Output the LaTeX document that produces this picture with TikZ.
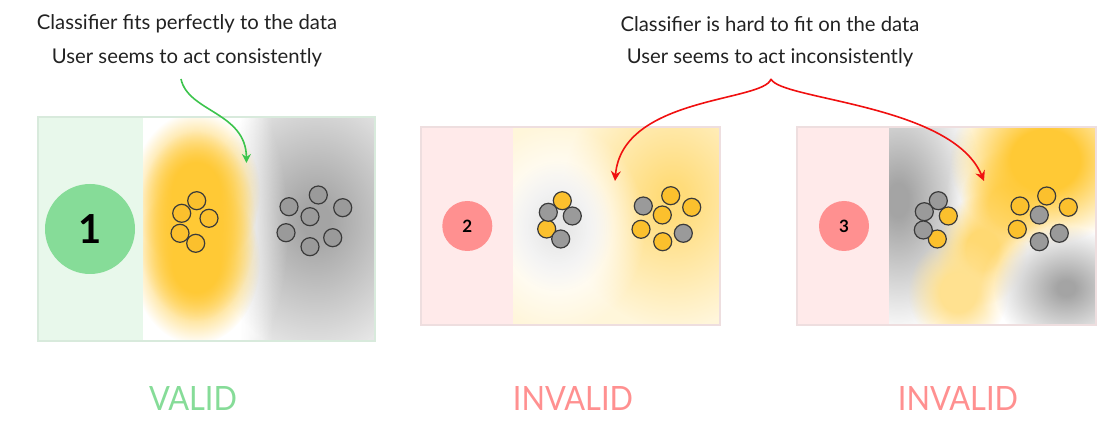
\documentclass[tikz,border=0pt]{standalone}
\usepackage{fontspec}
\setmainfont{Lato}
\usetikzlibrary{arrows.meta,fadings}
\definecolor{txt}{HTML}{222222}
\definecolor{okgreen}{HTML}{86DC98}
\definecolor{okstrip}{HTML}{E8F8EB}
\definecolor{okborder}{HTML}{D8EADC}
\definecolor{badred}{HTML}{FF9090}
\definecolor{badstrip}{HTML}{FFEAEA}
\definecolor{badborder}{HTML}{EEDEDF}
\definecolor{dotyellow}{HTML}{FBC02D}
\definecolor{dotgray}{HTML}{9A9A9A}
\definecolor{dotedge}{HTML}{3A3A3A}
\definecolor{heatyellow}{HTML}{FFC935}
\definecolor{paleyellow}{HTML}{FFF6DA}
\definecolor{midyellow}{HTML}{FFDC7A}
\definecolor{lightgray}{HTML}{E6E6E6}
\definecolor{darkgray}{HTML}{A4A4A4}
\definecolor{arrowgreen}{HTML}{3CC44C}
\definecolor{arrowred}{HTML}{F01010}
\pgfdeclareradialshading{softshade}{\pgfpoint{0bp}{0bp}}{color(0bp)=(pgftransparent!0); color(9bp)=(pgftransparent!0); color(25bp)=(pgftransparent!100); color(50bp)=(pgftransparent!100)}
\pgfdeclarefading{softblob}{\pgfuseshading{softshade}}
\pgfdeclareradialshading{wideshade}{\pgfpoint{0bp}{0bp}}{color(0bp)=(pgftransparent!0); color(3bp)=(pgftransparent!0); color(25bp)=(pgftransparent!100); color(50bp)=(pgftransparent!100)}
\pgfdeclarefading{wideblob}{\pgfuseshading{wideshade}}
\tikzset{
  ydot/.style={circle, draw=dotedge, line width=1.2pt, fill=dotyellow, minimum size=18pt, inner sep=0pt},
  gdot/.style={circle, draw=dotedge, line width=1.2pt, fill=dotgray, minimum size=18pt, inner sep=0pt},
  caption/.style={font=\fontsize{20.3}{23}\selectfont, text=txt, inner sep=0pt},
  verdict/.style={font=\fontsize{33.5}{36}\selectfont, inner sep=0pt, xscale=0.92},
  numdisc/.style={circle, inner sep=0pt, font=\bfseries},
  panelframe/.style={draw, line width=2pt},
  soft/.style={fill=#1, path fading=softblob},
  wide/.style={fill=#1, path fading=wideblob},
  greenarrow/.style={draw=arrowgreen, line width=1.6pt, -{Stealth[length=9pt,width=9pt]}},
  redarrow/.style={draw=arrowred, line width=1.6pt, -{Stealth[length=10pt,width=10pt]}}
}
\begin{document}
\begin{tikzpicture}[x=1pt,y=-1pt]
\useasboundingbox (0,0) rectangle (1119,446);
% ---------- panel 1 ----------
\fill[okstrip] (38,117) rectangle (143,341);
\begin{scope}
  \clip (143,117) rectangle (375,341);
  \fill[white] (143,117) rectangle (375,341);
  \shade[left color=white, right color=lightgray] (240,117) rectangle (272,341);
  \fill[lightgray] (272,117) rectangle (375,341);
  \path[wide=darkgray] (316,220) ellipse (110 and 135);
  \path[soft=white] (196,228) ellipse (92 and 175);
  \path[soft=heatyellow] (196,192) ellipse (64 and 80);
  \path[soft=heatyellow] (196,262) ellipse (64 and 82);
  \path[soft=heatyellow] (196,226) ellipse (60 and 95);
\end{scope}
\draw[panelframe, okborder] (38,117) rectangle (375,341);
\node[numdisc, fill=okgreen, minimum size=90pt, font=\fontsize{40}{40}\bfseries\selectfont] (n1) at (90,229) {1};
\foreach \x/\y [count=\i] in {196.7/200.7, 181.7/213.3, 209/218.3, 180/233.3, 195.7/243.3}
  \node[ydot] (a\i) at (\x,\y) {};
\foreach \x/\y [count=\i] in {318.3/195, 289/206.7, 342.7/207.7, 310/216.7, 286/232.7, 332.7/237.7, 310/246.7}
  \node[gdot] (b\i) at (\x,\y) {};
% ---------- panel 2 ----------
\fill[badstrip] (421,127) rectangle (513,325);
\begin{scope}
  \clip (513,127) rectangle (720,325);
  \fill[paleyellow] (513,127) rectangle (720,325);
  \path[wide=midyellow] (672,198) ellipse (110 and 130);
  \path[soft=white] (557,228) ellipse (88 and 105);
  \path[wide=lightgray] (557,226) ellipse (55 and 65);
\end{scope}
\draw[panelframe, badborder] (421,127) rectangle (720,325);
\node[numdisc, fill=badred, minimum size=50pt, font=\fontsize{17}{17}\bfseries\selectfont] (n2) at (467.3,226) {2};
\foreach \x/\y [count=\i] in {562.3/200.7, 546.7/229}
  \node[ydot] (c\i) at (\x,\y) {};
\foreach \x/\y [count=\i] in {548.3/212.3, 572.3/216, 560.7/239}
  \node[gdot] (d\i) at (\x,\y) {};
\foreach \x/\y [count=\i] in {670.7/195.7, 691.7/207.3, 662.3/215, 641/229.3, 662.7/241.7}
  \node[ydot] (e\i) at (\x,\y) {};
\foreach \x/\y [count=\i] in {643.3/206, 683.3/233.3}
  \node[gdot] (f\i) at (\x,\y) {};
% ---------- panel 3 ----------
\fill[badstrip] (797,127) rectangle (889,325);
\begin{scope}
  \clip (889,127) rectangle (1096,325);
  \fill[white] (889,127) rectangle (1096,325);
  \path[wide=darkgray] (898,200) ellipse (85 and 135);
  \path[soft=white] (985,215) ellipse (40 and 110);
  \path[soft=heatyellow!70!white] (1005,205) ellipse (45 and 55);
  \path[soft=heatyellow!70!white] (982,250) ellipse (45 and 55);
  \path[soft=heatyellow!55!white] (958,292) ellipse (50 and 55);
  \path[soft=heatyellow] (1045,160) ellipse (95 and 85);
  \path[soft=white] (1062,290) ellipse (82 and 70);
  \path[wide=darkgray] (1066,288) ellipse (72 and 62);
\end{scope}
\draw[panelframe, badborder] (797,127) rectangle (1096,325);
\node[numdisc, fill=badred, minimum size=50pt, font=\fontsize{17}{17}\bfseries\selectfont] (n3) at (844,226) {3};
\foreach \x/\y [count=\i] in {948.3/216, 937.3/239}
  \node[ydot] (g\i) at (\x,\y) {};
\foreach \x/\y [count=\i] in {938.3/200.7, 924.3/211.7, 923.3/230}
  \node[gdot] (h\i) at (\x,\y) {};
\foreach \x/\y [count=\i] in {1020/206, 1046.7/196, 1068.3/207.3, 1017.3/229.3}
  \node[ydot] (k\i) at (\x,\y) {};
\foreach \x/\y [count=\i] in {1039.3/215, 1039.3/241.7, 1059.3/233.3}
  \node[gdot] (m\i) at (\x,\y) {};
% ---------- captions ----------
\node[caption] (t1) at (187,24) {Classifier fits perfectly to the data};
\node[caption] (t2) at (187,58) {User seems to act consistently};
\node[caption] (t3) at (770,24) {Classifier is hard to fit on the data};
\node[caption] (t4) at (770,58) {User seems to act inconsistently};
% ---------- arrows ----------
\coordinate (gstart) at (181,79);
\coordinate (gtip) at (246.5,163);
\draw[greenarrow] (gstart) .. controls (188,112) and (246,112) .. (gtip);
\coordinate (rstart) at (771,79);
\coordinate (rtipA) at (615,181);
\coordinate (rtipB) at (984,181);
\draw[redarrow] (rstart) .. controls (764,102) and (622,96) .. (rtipA);
\draw[redarrow] (rstart) .. controls (780,100) and (952,104) .. (rtipB);
% ---------- verdicts ----------
\node[verdict, text=okgreen] (v1) at (193,398) {VALID};
\node[verdict, text=badred] (v2) at (573,398) {INVALID};
\node[verdict, text=badred] (v3) at (958,398) {INVALID};
\end{tikzpicture}
\end{document}
